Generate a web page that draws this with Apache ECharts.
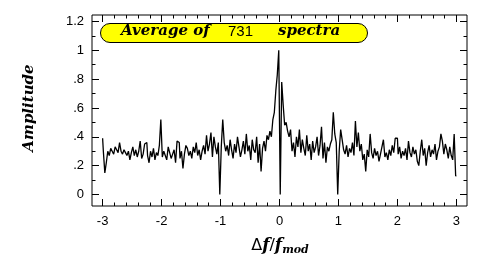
<!DOCTYPE html>
<html><head><meta charset="utf-8">
<script src="https://cdn.jsdelivr.net/npm/echarts@6/dist/echarts.min.js"></script>
<style>html,body{margin:0;padding:0;background:#fff}#c{width:491px;height:273px}</style>
</head><body><div id="c"></div>
<script>
// spectrum grid: x from -3 to 3 in steps of 0.025
const xStart = -3;
const xStep = 0.025;
// amplitude, one unit of delta f / f_mod per row
const ampUnitM3 = [0.39,0.30,0.15,0.22,0.30,0.27,0.32,0.30,0.28,0.33, 0.31,0.29,0.36,0.30,0.28,0.31,0.29,0.27,0.30,0.24, 0.29,0.33,0.27,0.31,0.26,0.30,0.37,0.25,0.28,0.35, 0.36,0.27,0.22,0.30,0.26,0.32,0.24,0.29,0.27,0.34];
const ampUnitM2 = [0.52,0.26,0.30,0.27,0.24,0.33,0.29,0.25,0.28,0.31, 0.22,0.37,0.36,0.25,0.30,0.18,0.28,0.34,0.32,0.27, 0.30,0.25,0.33,0.29,0.36,0.27,0.31,0.24,0.30,0.34, 0.28,0.41,0.30,0.35,0.43,0.26,0.40,0.33,0.28,0.36];
const ampUnitM1 = [0.00,0.33,0.52,0.36,0.30,0.34,0.27,0.38,0.31,0.25, 0.35,0.29,0.40,0.33,0.26,0.31,0.37,0.28,0.42,0.30, 0.34,0.24,0.38,0.31,0.29,0.40,0.22,0.35,0.16,0.32, 0.37,0.30,0.41,0.38,0.44,0.40,0.52,0.57,0.72,0.83];
const ampUnitP0 = [1.00,0.00,0.78,0.62,0.48,0.50,0.44,0.40,0.45,0.30, 0.36,0.26,0.40,0.33,0.45,0.29,0.38,0.32,0.27,0.41, 0.30,0.35,0.24,0.37,0.29,0.33,0.40,0.27,0.34,0.47, 0.25,0.36,0.22,0.33,0.30,0.35,0.38,0.57,0.42,0.36];
const ampUnitP1 = [0.00,0.30,0.45,0.38,0.31,0.28,0.34,0.26,0.32,0.29, 0.36,0.27,0.51,0.33,0.43,0.30,0.35,0.24,0.28,0.16, 0.31,0.26,0.42,0.29,0.25,0.32,0.27,0.30,0.23,0.28, 0.33,0.38,0.26,0.29,0.24,0.31,0.27,0.34,0.29,0.39];
const ampUnitP2 = [0.39,0.28,0.33,0.25,0.30,0.27,0.32,0.24,0.37,0.29, 0.26,0.33,0.28,0.31,0.23,0.20,0.30,0.38,0.27,0.32, 0.20,0.29,0.34,0.26,0.31,0.28,0.35,0.24,0.30,0.33, 0.42,0.37,0.28,0.35,0.31,0.25,0.33,0.27,0.24,0.42, 0.13];

const xMajorTicks = [-3,-2,-1,0,1,2,3];
const xMinorTicks = [-2.8,-2.6,-2.4,-2.2,-1.8,-1.6,-1.4,-1.2,-0.8,-0.6,-0.4,-0.2,0.2,0.4,0.6,0.8,1.2,1.4,1.6,1.8,2.2,2.4,2.6,2.8];
const yMajorTicks = [0,0.2,0.4,0.6,0.8,1,1.2];
const yMinorTicks = [0.1,0.3,0.5,0.7,0.9,1.1];
const titleParts = ['Average of', '731', 'spectra'];

const amplitude = [].concat(ampUnitM3, ampUnitM2, ampUnitM1, ampUnitP0, ampUnitP1, ampUnitP2);
const seriesData = amplitude.map((v, i) => [+(xStart + i * xStep).toFixed(4), v]);

const X_MIN = -3.18, X_MAX = 3.18, Y_MIN = -0.08, Y_MAX = 1.245;
const serifBI = { fontFamily: 'DejaVu Serif', fontStyle: 'italic', fontWeight: 'bold' };

function xAx(pos, ticks, len, labels) {
  return {
    type: 'value', position: pos, min: X_MIN, max: X_MAX,
    axisLine: { show: false, onZero: false }, splitLine: { show: false },
    axisTick: { show: true, inside: true, length: len, customValues: ticks, lineStyle: { color: '#000', width: 1 } },
    axisLabel: labels ? { show: true, customValues: ticks, color: '#000', fontSize: 13, fontFamily: 'Liberation Sans', margin: 9 } : { show: false }
  };
}
function yAx(pos, ticks, len, labels) {
  return {
    type: 'value', position: pos, min: Y_MIN, max: Y_MAX,
    axisLine: { show: false, onZero: false }, splitLine: { show: false },
    axisTick: { show: true, inside: true, length: len, customValues: ticks, lineStyle: { color: '#000', width: 1 } },
    axisLabel: labels ? { show: true, customValues: ticks, color: '#000', fontSize: 13, fontFamily: 'Liberation Sans', margin: 8,
      formatter: v => (v === 0 ? '0' : String(+v.toFixed(1)).replace(/^0\./, '.')) } : { show: false }
  };
}

const chart = echarts.init(document.getElementById('c'), null, { renderer: 'canvas' });
chart.setOption({
  animation: false,
  backgroundColor: '#fff',
  grid: { left: 92, right: 24, top: 15, bottom: 67, show: true, borderColor: '#000', borderWidth: 1, backgroundColor: 'transparent' },
  xAxis: [xAx('bottom', xMajorTicks, 7, true), xAx('top', xMajorTicks, 7, false), xAx('bottom', xMinorTicks, 3.5, false), xAx('top', xMinorTicks, 3.5, false)],
  yAxis: [yAx('left', yMajorTicks, 7, true), yAx('right', yMajorTicks, 7, false), yAx('left', yMinorTicks, 3.5, false), yAx('right', yMinorTicks, 3.5, false)],
  series: [{
    type: 'line', xAxisIndex: 0, yAxisIndex: 0, data: seriesData, step: 'middle', showSymbol: false,
    lineStyle: { color: '#000', width: 1.3 }, silent: true
  }],
  graphic: [
    { type: 'rect', left: 100, top: 23, shape: { width: 267, height: 19, r: 9.5 }, style: { fill: '#ffff00', stroke: '#000', lineWidth: 1 }, z: 100 },
    { type: 'text', left: 121, top: 24, style: Object.assign({ text: titleParts[0], fontSize: 15, fill: '#000' }, serifBI), z: 101 },
    { type: 'text', left: 228, top: 24, style: { text: titleParts[1], fontSize: 15, fontFamily: 'Liberation Sans', fill: '#000' }, z: 101 },
    { type: 'text', left: 278, top: 24, style: Object.assign({ text: titleParts[2], fontSize: 15, fill: '#000' }, serifBI), z: 101 },
    { type: 'text', x: 29, y: 108, rotation: Math.PI / 2, style: Object.assign({ text: 'Amplitude', fontSize: 15, fill: '#000', align: 'center', verticalAlign: 'middle' }, serifBI) },
    { type: 'text', x: 280, y: 246, style: {
      text: '{d|Δ}{f|f}{d|/}{f|f}{s|mod}', align: 'center', verticalAlign: 'middle',
      rich: {
        d: { fontFamily: 'DejaVu Sans', fontSize: 16, fill: '#000' },
        f: Object.assign({ fontSize: 17, fill: '#000' }, serifBI),
        s: Object.assign({ fontSize: 11, fill: '#000', padding: [8, 0, 0, 0] }, serifBI)
      } } }
  ]
});
</script></body></html>
